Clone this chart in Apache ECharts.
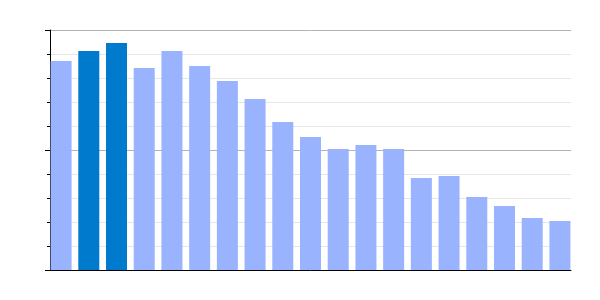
<!DOCTYPE html>
<html>
<head>
<meta charset="utf-8">
<script src="https://cdn.jsdelivr.net/npm/echarts@6/dist/echarts.min.js"></script>
<style>html,body{margin:0;padding:0;background:#fff}#c{width:600px;height:300px}</style>
</head>
<body>
<div id="c"></div>
<script>
var positions = [0,1,2,3,4,5,6,7,8,9,10,11,12,13,14,15,16,17,18];
var values = [8.71, 9.13, 9.46, 8.42, 9.13, 8.5, 7.88, 7.13, 6.17, 5.54, 5.04, 5.21, 5.04, 3.83, 3.92, 3.04, 2.67, 2.17, 2.04];
var highlighted = [1, 2];
var yMin = 0, yMax = 10, yInterval = 5;

var chart = echarts.init(document.getElementById('c'), null, {renderer: 'canvas'});
var data = positions.map(function (p, i) {
  return {
    value: [p, values[i]],
    itemStyle: {color: highlighted.indexOf(i) >= 0 ? '#007acc' : '#99b3ff'}
  };
});
chart.setOption({
  animation: false,
  grid: {left: 50, right: 29, top: 30, bottom: 30, containLabel: false},
  xAxis: {
    type: 'value', min: -0.4, max: 18.4,
    axisLine: {show: true, onZero: false, lineStyle: {color: '#000', width: 1}},
    axisTick: {show: false}, axisLabel: {show: false}, splitLine: {show: false}
  },
  yAxis: {
    type: 'value', min: yMin, max: yMax, interval: yInterval,
    axisLine: {show: true, onZero: false, lineStyle: {color: '#000', width: 1}},
    axisTick: {show: true, length: 5, lineStyle: {color: '#000'}},
    minorTick: {show: true, splitNumber: 5, length: 3, lineStyle: {color: '#000'}},
    axisLabel: {show: false},
    splitLine: {show: true, lineStyle: {color: '#b3b3b3', width: 1}},
    minorSplitLine: {show: true, lineStyle: {color: '#e6e6e6', width: 1}}
  },
  series: [{
    type: 'bar',
    barWidth: 21,
    data: data
  }]
});
</script>
</body>
</html>
